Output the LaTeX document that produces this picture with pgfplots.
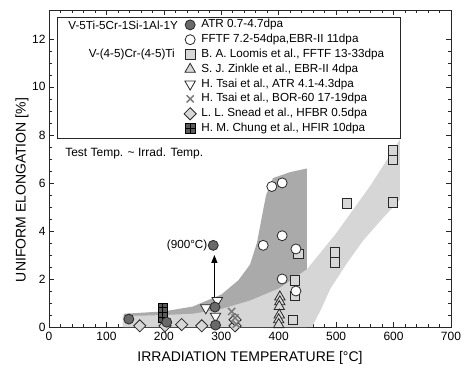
\documentclass[border=0pt]{standalone}
\usepackage{fontspec}
\setmainfont{Liberation Sans}
\usepackage{pgfplots}
\pgfplotsset{compat=1.18}
\usetikzlibrary{arrows.meta}

\definecolor{banddark}{RGB}{170,170,170}
\definecolor{bandlight}{RGB}{214,214,214}
\definecolor{edgec}{RGB}{40,40,40}
\definecolor{atrfill}{RGB}{105,105,105}
\definecolor{lgfill}{RGB}{215,215,215}
\definecolor{crossc}{RGB}{120,120,120}
\definecolor{gridfill}{RGB}{90,90,90}

\pgfdeclareplotmark{gridsq}{%
  \pgfpathrectangle{\pgfpoint{-\pgfplotmarksize}{-\pgfplotmarksize}}{\pgfpoint{2\pgfplotmarksize}{2\pgfplotmarksize}}%
  \pgfusepathqfillstroke
  \pgfpathmoveto{\pgfpoint{0pt}{-\pgfplotmarksize}}\pgfpathlineto{\pgfpoint{0pt}{\pgfplotmarksize}}%
  \pgfpathmoveto{\pgfpoint{-\pgfplotmarksize}{0pt}}\pgfpathlineto{\pgfpoint{\pgfplotmarksize}{0pt}}%
  \pgfusepathqstroke
}

\begin{document}
\begin{tikzpicture}
\useasboundingbox (-49pt,-41pt) rectangle (417pt,327pt);
\begin{axis}[
  at={(0,0)}, anchor=south west, scale only axis,
  width=402pt, height=317pt,
  xmin=0, xmax=700, ymin=0, ymax=13.2,
  xtick={0,100,...,700}, ytick={0,2,...,12},
  minor x tick num=4, minor y tick num=3,
  tick align=inside, major tick length=5pt, minor tick length=3pt,
  tick style={line width=0.6pt, color=black!85},
  axis line style={line width=0.9pt, black!85},
  /pgf/number format/assume math mode=true,
  ticklabel style={font=\fontsize{12}{14}\selectfont},
  xticklabel style={yshift=-2pt},
  xlabel={IRRADIATION TEMPERATURE [°C]},
  ylabel={UNIFORM ELONGATION [\%]},
  label style={font=\fontsize{14}{16}\selectfont},
  xlabel style={at={(axis description cs:0.5,-0.0978)}, anchor=center},
  ylabel style={at={(axis description cs:-0.0672,0.432)}, anchor=center},
  clip=false,
  legend style={at={(rel axis cs:0.336,0.972)}, anchor=north west, draw=none, fill=none,
    inner sep=0pt, outer sep=0pt, row sep=2.8pt,
    font=\fontsize{11.7}{13}\selectfont,
    nodes={inner sep=0pt, text height=9pt, text depth=3pt}},
  legend cell align=left,
  legend image code/.code={\draw[mark repeat=2,mark phase=2,#1] plot coordinates {(0pt,0pt) (6pt,0pt) (12pt,0pt)}; \path (17pt,0pt);},
]
% shaded bands
\addplot[fill=banddark, draw=none, forget plot] coordinates {
 (130,0) (130,0.55) (200,0.65) (250,0.85) (300,1.35) (330,1.95) (350,2.6) (362,3.5)
 (370,4.5) (378,5.5) (390,6.2) (420,6.45) (449,6.6) (449,0)} -- cycle;
\addplot[fill=bandlight, draw=none, forget plot] coordinates {
 (128,0) (128,0.45) (200,0.5) (250,0.55) (300,0.75) (350,1.1) (400,1.6) (449,2.4)
 (500,3.9) (560,5.9) (611,7.8) (611,5.3) (580,4.5) (547,3.6) (520,2.7) (490,1.6)
 (475,0.8) (458,0)} -- cycle;

% legend frame
\draw[line width=0.8pt, black!85, fill=white] (rel axis cs:0.0199,0.596) rectangle (rel axis cs:0.873,0.978);

% legend entries
\addlegendimage{only marks, mark=*, mark size=5pt, mark options={fill=atrfill, draw=edgec, line width=0.8pt}}
\addlegendentry{ATR 0.7-4.7dpa}
\addlegendimage{only marks, mark=*, mark size=5pt, mark options={fill=white, draw=edgec, line width=0.8pt}}
\addlegendentry{FFTF 7.2-54dpa,EBR-II 11dpa}
\addlegendimage{only marks, mark=square*, mark size=4.8pt, mark options={fill=lgfill, draw=edgec, line width=0.8pt}}
\addlegendentry{B. A. Loomis et al., FFTF 13-33dpa}
\addlegendimage{only marks, mark=triangle*, mark size=6pt, mark options={fill=lgfill, draw=edgec, line width=0.8pt}}
\addlegendentry{S. J. Zinkle et al., EBR-II 4dpa}
\addlegendimage{only marks, mark=triangle*, mark size=6pt, mark options={fill=white, draw=edgec, line width=0.8pt, rotate=180}}
\addlegendentry{H. Tsai et al., ATR 4.1-4.3dpa}
\addlegendimage{only marks, mark=x, mark size=5pt, mark options={draw=crossc, line width=1.4pt}}
\addlegendentry{H. Tsai et al., BOR-60 17-19dpa}
\addlegendimage{only marks, mark=square*, mark size=4.3pt, mark options={fill=lgfill, draw=edgec, line width=0.8pt, rotate=45}}
\addlegendentry{L. L. Snead et al., HFBR 0.5dpa}
\addlegendimage{only marks, mark=gridsq, mark size=4.8pt, mark options={fill=gridfill, draw=black, line width=0.7pt}}
\addlegendentry{H. M. Chung et al., HFIR 10dpa}

% data
% Loomis squares
\addplot[only marks, mark=square*, mark size=4.8pt, mark options={fill=lgfill, draw=edgec, line width=0.8pt}, forget plot]
 coordinates {(434,3.05) (428,1.95) (428,1.3) (425,0.3) (498,3.1) (498,2.68) (519,5.15) (599,7.35) (599,6.95) (599,5.2)};
% FFTF white circles
\addplot[only marks, mark=*, mark size=5pt, mark options={fill=white, draw=edgec, line width=0.8pt}, forget plot]
 coordinates {(388,5.85) (406,6.0) (373,3.4) (406,3.8) (430,3.25) (406,2.0) (430,1.5)};
% Zinkle triangles
\addplot[only marks, mark=triangle*, mark size=6pt, mark options={fill=lgfill, draw=edgec, line width=0.8pt}, forget plot]
 coordinates {(402,1.25) (402,1.05) (401,0.85) (401,0.5) (400,0.3) (400,0.1)};
% Snead diamonds
\addplot[only marks, mark=square*, mark size=4.3pt, mark options={fill=lgfill, draw=edgec, line width=0.8pt, rotate=45}, forget plot]
 coordinates {(158,0.05) (202,0.05) (231,0.1) (266,0.05) (324,0.05) (324,0.3)};
% Tsai BOR-60 crosses
\addplot[only marks, mark=x, mark size=5pt, mark options={draw=crossc, line width=1.4pt}, forget plot]
 coordinates {(318,0.65) (324,0.38) (326,0.12)};
% Tsai ATR down triangles
\addplot[only marks, mark=triangle*, mark size=6pt, mark options={fill=white, draw=edgec, line width=0.8pt, rotate=180}, forget plot]
 coordinates {(273,0.8) (293,1.1) (290,0.45)};
% Chung grid squares
\addplot[only marks, mark=gridsq, mark size=4.8pt, mark options={fill=gridfill, draw=black, line width=0.7pt}, forget plot]
 coordinates {(198,0.8) (198,0.4)};
% ATR dark circles
\addplot[only marks, mark=*, mark size=5pt, mark options={fill=atrfill, draw=edgec, line width=0.8pt}, forget plot]
 coordinates {(139,0.33) (205,0.2) (290,0.08) (289,0.83) (286,3.4)};

% arrow and annotations
\draw[-{Triangle[length=8pt,width=6pt]}, line width=1.2pt, black] (axis cs:288,0.95) -- (axis cs:288,3.0);
\node[anchor=east, inner sep=0pt, font=\fontsize{11.7}{13}\selectfont] at (axis cs:276,3.4) {(900°C)};
\node[anchor=base west, inner sep=0pt, font=\fontsize{12}{14}\selectfont] at (axis cs:28,7.08) {Test Temp. \textasciitilde{} Irrad. Temp.};
\node[anchor=base east, inner sep=0pt, font=\fontsize{11.7}{13}\selectfont] at (rel axis cs:0.321,0.940) {V-5Ti-5Cr-1Si-1Al-1Y};
\node[anchor=base east, inner sep=0pt, font=\fontsize{11.7}{13}\selectfont] at (rel axis cs:0.3134,0.850) {V-(4-5)Cr-(4-5)Ti};
\end{axis}
\end{tikzpicture}
\end{document}
